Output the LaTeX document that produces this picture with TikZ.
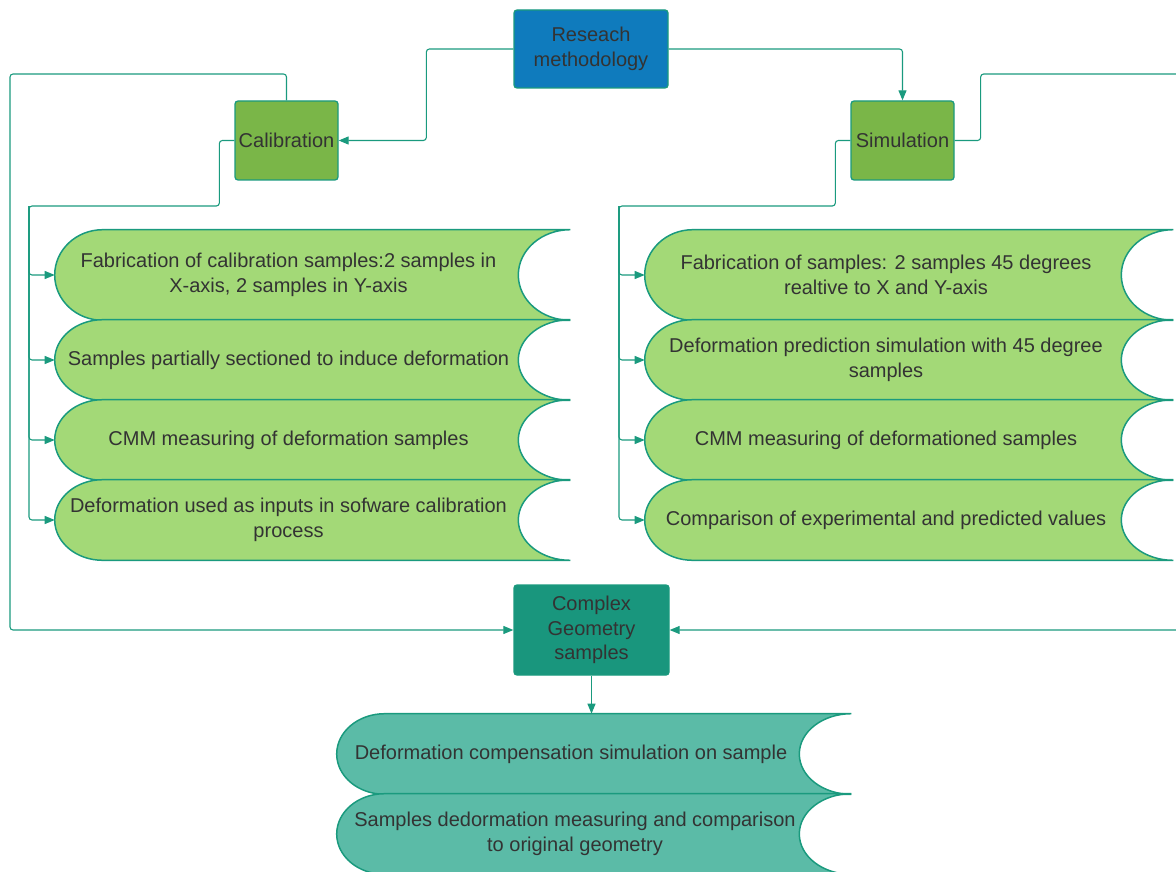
\documentclass[tikz,border=0pt]{standalone}
\usepackage{fontspec}
\setmainfont{Liberation Sans}
\usetikzlibrary{positioning, calc, backgrounds, arrows.meta}
\definecolor{linkteal}{HTML}{1A9A7E}
\definecolor{methodblue}{HTML}{0F7BBD}
\definecolor{branchgreen}{HTML}{7AB648}
\definecolor{stepgreen}{HTML}{A3D977}
\definecolor{resultteal}{HTML}{19967D}
\definecolor{finalteal}{HTML}{5BBBA7}
\definecolor{textgray}{HTML}{333333}

% contorno del bloque (lado izquierdo redondo, lado derecho con mordida)
\newcommand{\storeoutline}[2]{%
  \begin{scope}[on background layer]
    \path[storeline, fill=#2] let \p1=(#1.north), \p2=(#1.south), \n1={(\y1-\y2)/2} in
      ([xshift=48pt]#1.north west) -- ([xshift=52pt]#1.north east)
      arc[start angle=90, end angle=270, x radius=52pt, y radius=\n1]
      -- ([xshift=48pt]#1.south west)
      arc[start angle=270, end angle=90, x radius=48pt, y radius=\n1] -- cycle;
  \end{scope}}

\begin{document}
\begin{tikzpicture}[x=1pt, y=-1pt, semithick,
            box/.style ={rectangle, rounded corners=3pt, draw=linkteal, line width=1.3pt,
            text=textgray, align=center, inner sep=0pt, font=\fontsize{20}{24.5}\selectfont},
            storetext/.style ={rectangle, text=textgray, align=center, inner sep=0pt,
            font=\fontsize{20}{24.5}\selectfont},
            storeline/.style ={draw=linkteal, line width=1.5pt},
            link/.style ={draw=linkteal, line width=1.1pt, rounded corners=3pt,
            -{Triangle[length=10pt, width=8pt]}}]

        \useasboundingbox (0,0) rectangle (1176,872);
        \clip (0,0) rectangle (1176,872);

        %\node [estilo] (nombre) at (x,y) {};

        \node[box, fill=methodblue, minimum width=154pt, minimum height=78pt] (res) at (591,49) {Reseach\\methodology};
        \node[box, fill=branchgreen, minimum width=103pt, minimum height=79pt] (cal) at (286.5,140.5) {Calibration};
        \node[box, fill=branchgreen, minimum width=103pt, minimum height=79pt] (sim) at (902.5,140.5) {Simulation};
        \node[box, fill=resultteal, minimum width=155pt, minimum height=90pt] (cpx) at (591.5,630) {Complex\\Geometry\\samples};

        \node[storetext, minimum width=463pt, minimum height=90pt] (l1) at (286.5,275) {\hspace*{4pt}Fabrication of calibration samples:2 samples in\\\hspace*{4pt}X-axis, 2 samples in Y-axis};
        \node[storetext, minimum width=463pt, minimum height=80pt] (l2) at (286.5,360) {\hspace*{4pt}Samples partially sectioned to induce deformation};
        \node[storetext, minimum width=463pt, minimum height=80pt] (l3) at (286.5,440) {\hspace*{4pt}CMM measuring of deformation samples};
        \node[storetext, minimum width=463pt, minimum height=80pt] (l4) at (286.5,520) {\hspace*{4pt}Deformation used as inputs in sofware calibration\\\hspace*{4pt}process};

        \node[storetext, minimum width=476pt, minimum height=90pt] (r1) at (883,275) {\hspace*{6pt}Fabrication of samples: 2 samples 45 degrees\\\hspace*{6pt}realtive to X and Y-axis};
        \node[storetext, minimum width=476pt, minimum height=80pt] (r2) at (883,360) {\hspace*{6pt}Deformation prediction simulation with 45 degree\\\hspace*{6pt}samples};
        \node[storetext, minimum width=476pt, minimum height=80pt] (r3) at (883,440) {\hspace*{6pt}CMM measuring of deformationed samples};
        \node[storetext, minimum width=476pt, minimum height=80pt] (r4) at (883,520) {\hspace*{6pt}Comparison of experimental and predicted values};

        \node[storetext, minimum width=462pt, minimum height=80pt] (b1) at (568,754) {\hspace*{6pt}Deformation compensation simulation on sample};
        \node[storetext, minimum width=462pt, minimum height=80pt] (b2) at (568,834) {\hspace*{14pt}Samples dedormation measuring and comparison\\\hspace*{14pt}to original geometry};

        \storeoutline{l1}{stepgreen}
        \storeoutline{l2}{stepgreen}
        \storeoutline{l3}{stepgreen}
        \storeoutline{l4}{stepgreen}
        \storeoutline{r1}{stepgreen}
        \storeoutline{r2}{stepgreen}
        \storeoutline{r3}{stepgreen}
        \storeoutline{r4}{stepgreen}
        \storeoutline{b1}{finalteal}
        \storeoutline{b2}{finalteal}

        \coordinate (lout) at (10,74);
        \coordinate (rout) at (1200,74);
        \coordinate (lbus) at (29,206);
        \coordinate (rbus) at (619,206);

        \draw[link] (res.west) -- ++(-87,0) |- (cal.east);
        \draw[link] (res.east) -| (sim.north);

        \draw[link] (cal.north) |- (lout) |- (cpx.west);
        \draw[link] (sim.east) -- ++(26,0) |- (rout) |- (cpx.east);

        \draw[link] (cal.west) -- ++(-15,0) |- (lbus) |- (l1.west);
        \draw[link] (lbus) |- (l2.west);
        \draw[link] (lbus) |- (l3.west);
        \draw[link] (lbus) |- (l4.west);

        \draw[link] (sim.west) -- ++(-15,0) |- (rbus) |- (r1.west);
        \draw[link] (rbus) |- (r2.west);
        \draw[link] (rbus) |- (r3.west);
        \draw[link] (rbus) |- (r4.west);

        \draw[link] (cpx.south) -- (cpx.south |- b1.north);
    \end{tikzpicture}
\end{document}
